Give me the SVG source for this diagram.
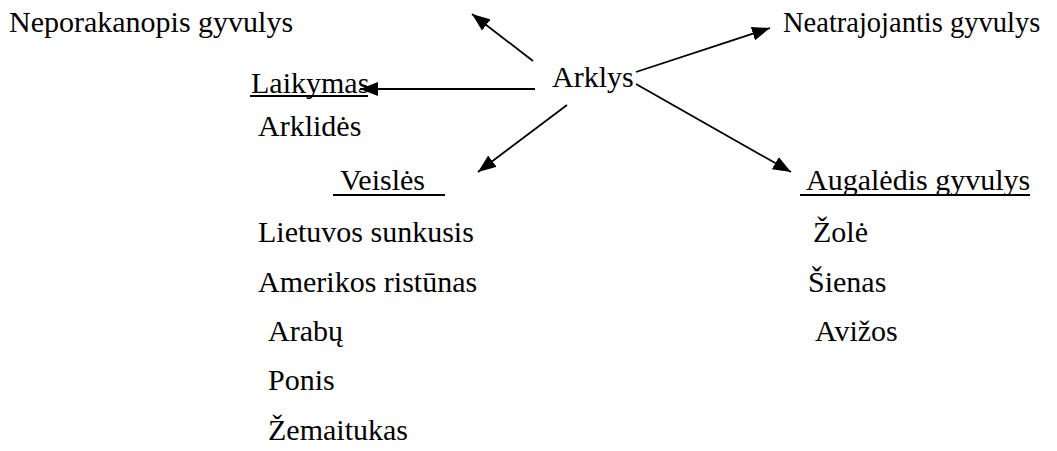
<svg xmlns="http://www.w3.org/2000/svg" width="1057" height="451" viewBox="0 0 1057 451">
<defs>
<marker id="ah" markerUnits="userSpaceOnUse" markerWidth="19" markerHeight="15" refX="18" refY="7" orient="auto" viewBox="0 0 19 14">
<path d="M0,0 L18,7 L0,14 Z" fill="#000"/>
</marker>
</defs>
<rect width="1057" height="451" fill="#fff"/>
<g id="connectors" stroke="#000" stroke-width="1.8" fill="none">
<line x1="533" y1="61" x2="472" y2="14" marker-end="url(#ah)"/>
<line x1="636" y1="72" x2="770" y2="28" marker-end="url(#ah)"/>
<line x1="535" y1="89" x2="360" y2="89" marker-end="url(#ah)"/>
<line x1="567" y1="105" x2="478" y2="172" marker-end="url(#ah)"/>
<line x1="636" y1="84" x2="791" y2="172" marker-end="url(#ah)"/>
</g>
<g id="arklys"><text x="552" y="87" font-family="Liberation Serif" font-size="30">Arklys</text></g>
<g id="neporakanopis"><text x="9" y="32" font-family="Liberation Serif" font-size="30">Neporakanopis gyvulys</text></g>
<g id="neatrajojantis"><text x="783" y="32" font-family="Liberation Serif" font-size="28.5">Neatrajojantis gyvulys</text></g>
<g id="laikymas">
<text x="251" y="93" font-family="Liberation Serif" font-size="30">Laikymas</text>
<line x1="250" y1="96" x2="368" y2="96" stroke="#000" stroke-width="2"/>
<text x="258" y="136" font-family="Liberation Serif" font-size="30">Arklidės</text>
</g>
<g id="veisles">
<text x="340" y="190" font-family="Liberation Serif" font-size="30">Veislės</text>
<line x1="333" y1="195" x2="445" y2="195" stroke="#000" stroke-width="2"/>
<text x="258" y="242" font-family="Liberation Serif" font-size="30">Lietuvos sunkusis</text>
<text x="258" y="292" font-family="Liberation Serif" font-size="30">Amerikos ristūnas</text>
<text x="268" y="341" font-family="Liberation Serif" font-size="30">Arabų</text>
<text x="268" y="390" font-family="Liberation Serif" font-size="30">Ponis</text>
<text x="268" y="440" font-family="Liberation Serif" font-size="30">Žemaitukas</text>
</g>
<g id="augaledis">
<text x="806" y="190" font-family="Liberation Serif" font-size="30">Augalėdis gyvulys</text>
<line x1="800" y1="195" x2="1030" y2="195" stroke="#000" stroke-width="2"/>
<text x="813" y="242" font-family="Liberation Serif" font-size="30">Žolė</text>
<text x="808" y="292" font-family="Liberation Serif" font-size="30">Šienas</text>
<text x="815" y="341" font-family="Liberation Serif" font-size="30">Avižos</text>
</g>
</svg>
